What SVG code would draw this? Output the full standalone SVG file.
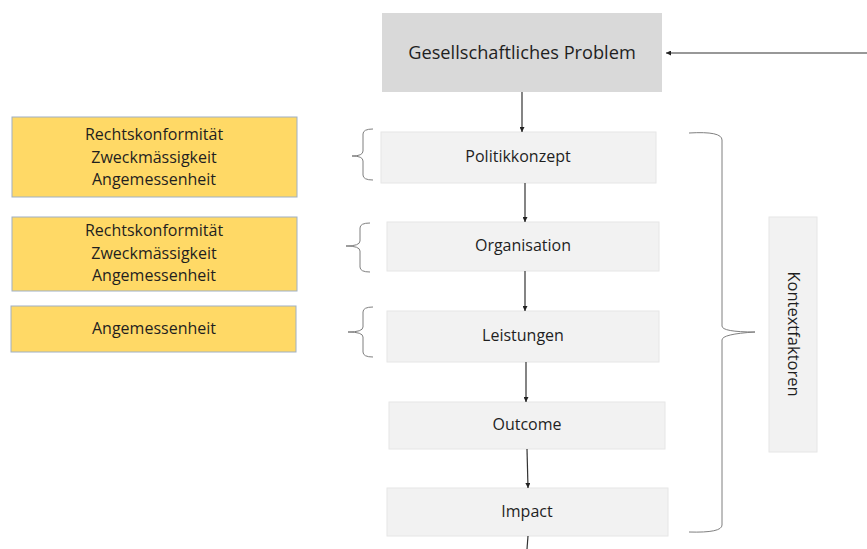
<svg xmlns="http://www.w3.org/2000/svg" width="867" height="549" viewBox="0 0 867 549">
<defs>
<marker id="ah" viewBox="0 0 10 10" refX="10" refY="5" markerWidth="5" markerHeight="5" orient="auto" markerUnits="userSpaceOnUse">
<path d="M0,0 L10,5 L0,10 z" fill="#222"/>
</marker>
<style>
.t{font-family:"Open Sans","Liberation Sans",Arial,sans-serif;fill:#1f1f1f;text-anchor:middle;dominant-baseline:central}
.s{font-size:16px}
.grey{fill:#f2f2f2;stroke:#e6e6e6;stroke-width:1}
.yel{fill:#ffd966;stroke:#9fb0c4;stroke-width:1}
.con{stroke:#333;stroke-width:1.2;fill:none}
.br{stroke:#7f7f7f;stroke-width:1;fill:none}
</style>
</defs>
<rect width="867" height="549" fill="#fff"/>

<g id="problem">
<rect x="382" y="13" width="280" height="79" fill="#d9d9d9"/>
<text class="t" x="522" y="52" font-size="18.2">Gesellschaftliches Problem</text>
</g>
<g id="politikkonzept">
<rect class="grey" x="381" y="132" width="275" height="51"/>
<text class="t s" x="518" y="156">Politikkonzept</text>
</g>
<g id="organisation">
<rect class="grey" x="387" y="222" width="272" height="49"/>
<text class="t s" x="523" y="245">Organisation</text>
</g>
<g id="leistungen">
<rect class="grey" x="387" y="311" width="272" height="51"/>
<text class="t s" x="523" y="335">Leistungen</text>
</g>
<g id="outcome">
<rect class="grey" x="389" y="402" width="276" height="47"/>
<text class="t s" x="527" y="424">Outcome</text>
</g>
<g id="impact">
<rect class="grey" x="387" y="488" width="281" height="48"/>
<text class="t s" x="527" y="511">Impact</text>
</g>

<g id="kriterien1">
<rect class="yel" x="12" y="117" width="285" height="80"/>
<text class="t s" x="154" y="134">Rechtskonformität</text>
<text class="t s" x="154" y="157">Zweckmässigkeit</text>
<text class="t s" x="154" y="179">Angemessenheit</text>
</g>
<g id="kriterien2">
<rect class="yel" x="12" y="217" width="285" height="74"/>
<text class="t s" x="154" y="230">Rechtskonformität</text>
<text class="t s" x="154" y="253">Zweckmässigkeit</text>
<text class="t s" x="154" y="275">Angemessenheit</text>
</g>
<g id="kriterien3">
<rect class="yel" x="11" y="306" width="285" height="46"/>
<text class="t s" x="154" y="328">Angemessenheit</text>
</g>

<g id="kontextfaktoren">
<rect class="grey" x="769" y="217" width="48" height="235"/>
<text class="t" font-size="16.5" transform="translate(794,334) rotate(90)">Kontextfaktoren</text>
</g>

<g id="connectors">
<line class="con" x1="867" y1="53" x2="666" y2="53" marker-end="url(#ah)"/>
<line class="con" x1="522" y1="92" x2="522" y2="132" marker-end="url(#ah)"/>
<line class="con" x1="525" y1="183" x2="525" y2="222" marker-end="url(#ah)"/>
<line class="con" x1="525" y1="271" x2="525" y2="311" marker-end="url(#ah)"/>
<line class="con" x1="526" y1="362" x2="526" y2="402" marker-end="url(#ah)"/>
<line class="con" x1="527" y1="449" x2="528" y2="488" marker-end="url(#ah)"/>
<line class="con" x1="528" y1="536" x2="527" y2="549"/>
</g>

<g id="braces">
<path class="br" d="M373,129 Q363,129 363,134 L363,151 Q363,156 352,156 Q363,156 363,161 L363,175 Q363,180 373,180"/>
<path class="br" d="M370,223 Q360,223 360,228 L360,241 Q360,246 346,246 Q360,246 360,251 L360,267 Q360,272 370,272"/>
<path class="br" d="M373,307 Q363,307 363,312 L363,327 Q363,332 348,332 Q363,332 363,337 L363,352 Q363,357 373,357"/>
<path class="br" d="M689,133 Q722,131 722,140 L722,326 Q722,332 755,332 Q722,334 722,340 L722,525 Q722,533 689,532"/>
</g>
</svg>
